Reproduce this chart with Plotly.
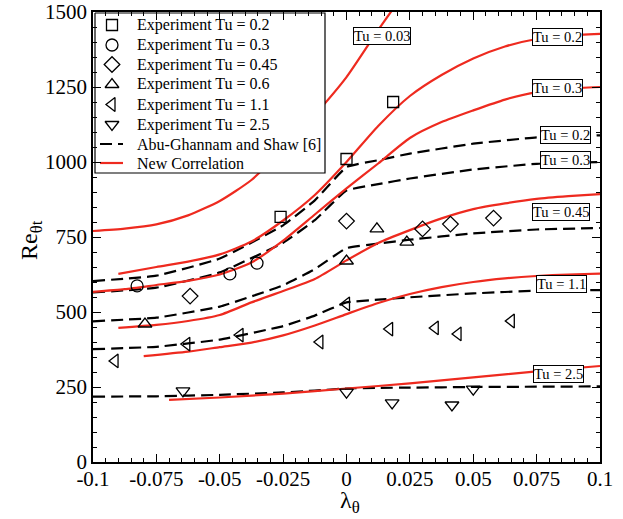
import plotly.graph_objects as go

# --- Abu-Ghannam and Shaw correlation (dashed), read on a common lambda grid ---
ag_lam = [-0.1, -0.075, -0.05, -0.025, -0.0125, 0.0, 0.0125, 0.025, 0.05, 0.075, 0.1]
ag_tu02 = [603, 621, 678, 789, 872, 983, 1006, 1028, 1061, 1082, 1089]
ag_tu03 = [565, 581, 632, 731, 806, 905, 926, 945, 975, 994, 1000]
ag_tu045 = [469, 481, 518, 589, 643, 713, 728, 741, 762, 775, 780]
ag_tu11 = [376, 384, 408, 453, 488, 532, 541, 549, 562, 571, 573]
ag_tu25 = [218, 219, 224, 232, 238, 245, 247, 248, 250, 251, 252]

# --- New correlation (red) ---
nc_tu003_lam = [-0.1, -0.0875, -0.075, -0.0625, -0.05, -0.0375, -0.025, -0.0125, 0.0, 0.0125, 0.02]
nc_tu003 = [770, 778, 792, 822, 870, 940, 1043, 1157, 1283, 1440, 1530]

nc_tu02_lam = [-0.09, -0.075, -0.0625, -0.05, -0.0375, -0.025, -0.0125, 0.0, 0.0125, 0.025,
               0.0375, 0.05, 0.0625, 0.075, 0.0875, 0.1]
nc_tu02 = [627, 650, 668, 692, 735, 805, 890, 1000, 1120, 1220, 1290, 1345, 1385, 1410, 1422, 1427]

nc_tu03_lam = [-0.1, -0.0875, -0.075, -0.0625, -0.05, -0.0375, -0.025, -0.0125, 0.0, 0.0125,
               0.025, 0.0375, 0.05, 0.0625, 0.075, 0.0875, 0.1]
nc_tu03 = [567, 576, 590, 604, 625, 665, 738, 825, 912, 995, 1080, 1133, 1172, 1208, 1233, 1244, 1250]

nc_tu045_lam = [-0.09, -0.075, -0.0625, -0.05, -0.0375, -0.025, -0.0125, 0.0, 0.0125, 0.025,
                0.0375, 0.05, 0.0625, 0.075, 0.0875, 0.1]
nc_tu045 = [447, 457, 470, 490, 532, 570, 610, 672, 730, 773, 812, 843, 862, 877, 886, 893]

nc_tu11_lam = [-0.08, -0.0625, -0.05, -0.0375, -0.025, -0.0125, 0.0, 0.0125, 0.025, 0.0375,
               0.05, 0.0625, 0.075, 0.0875, 0.1]
nc_tu11 = [353, 368, 383, 398, 422, 455, 493, 530, 560, 583, 600, 612, 620, 625, 628]

nc_tu25_lam = [-0.07, -0.05, -0.025, 0.0, 0.025, 0.05, 0.075, 0.1]
nc_tu25 = [207, 215, 228, 245, 262, 282, 302, 320]

# --- Experimental points ---
exp_tu02_lam = [-0.026, 0.0, 0.0184]
exp_tu02 = [817, 1010, 1200]
exp_tu03_lam = [-0.0826, -0.046, -0.0353]
exp_tu03 = [587, 627, 663]
exp_tu045_lam = [-0.0617, 0.0, 0.030, 0.041, 0.058]
exp_tu045 = [553, 803, 777, 793, 813]
exp_tu06_lam = [-0.0795, 0.0, 0.012, 0.0238]
exp_tu06 = [460, 670, 777, 733]
exp_tu11_lam = [-0.0913, -0.063, -0.042, -0.0105, 0.0, 0.017, 0.035, 0.044, 0.065]
exp_tu11 = [337, 393, 423, 400, 527, 443, 447, 427, 470]
exp_tu25_lam = [-0.0645, 0.0, 0.018, 0.0416, 0.05]
exp_tu25 = [237, 233, 197, 190, 243]

# --- Curve labels ---
label_text = ["Tu = 0.03", "Tu = 0.2", "Tu = 0.3", "Tu = 0.2", "Tu = 0.3", "Tu = 0.45", "Tu = 1.1", "Tu = 2.5"]
label_lam = [0.0140, 0.0834, 0.0834, 0.0862, 0.0862, 0.0846, 0.0850, 0.0838]
label_re = [1420, 1418, 1247, 1090, 1007, 833, 593, 293]

# --- Legend entries ---
legend_names = ["Experiment Tu = 0.2", "Experiment Tu = 0.3", "Experiment Tu = 0.45",
                "Experiment Tu = 0.6", "Experiment Tu = 1.1", "Experiment Tu = 2.5",
                "Abu-Ghannam and Shaw [6]", "New Correlation"]

x_tickvals = [-0.1, -0.075, -0.05, -0.025, 0, 0.025, 0.05, 0.075, 0.1]
x_ticktext = ["-0.1", "-0.075", "-0.05", "-0.025", "0", "0.025", "0.05", "0.075", "0.1"]

SERIF = "Liberation Serif"
RED = "#ee2a1f"
DASH = "12px,6px"

W, H = 623, 519
ML, MR, MT, MB = 93, 23, 12, 57
PW, PH = W - ML - MR, H - MT - MB


def fx(px):
    return (px - ML) / PW


def fy(py):
    return (H - MB - py) / PH


fig = go.Figure()

for vals in [ag_tu02, ag_tu03, ag_tu045, ag_tu11, ag_tu25]:
    fig.add_trace(go.Scatter(
        x=ag_lam, y=vals, mode="lines", showlegend=False, hoverinfo="skip",
        line=dict(color="black", width=2.2, dash=DASH, shape="spline", smoothing=0.35),
    ))

for lx, vals in [(nc_tu003_lam, nc_tu003), (nc_tu02_lam, nc_tu02), (nc_tu03_lam, nc_tu03),
                 (nc_tu045_lam, nc_tu045), (nc_tu11_lam, nc_tu11), (nc_tu25_lam, nc_tu25)]:
    fig.add_trace(go.Scatter(
        x=lx, y=vals, mode="lines", showlegend=False, hoverinfo="skip",
        line=dict(color=RED, width=2.2, shape="spline", smoothing=0.6),
    ))

exp_sets = [
    (exp_tu02_lam, exp_tu02, "square-open", 11),
    (exp_tu03_lam, exp_tu03, "circle-open", 12),
    (exp_tu045_lam, exp_tu045, "diamond-open", 12),
    (exp_tu06_lam, exp_tu06, "triangle-up-open", 12),
    (exp_tu11_lam, exp_tu11, "triangle-left-open", 12),
    (exp_tu25_lam, exp_tu25, "triangle-down-open", 12),
]
for (lx, vals, sym, sz), nm in zip(exp_sets, legend_names):
    fig.add_trace(go.Scatter(
        x=lx, y=vals, mode="markers", name=nm, showlegend=False,
        marker=dict(symbol=sym, size=sz, color="black", line=dict(color="black", width=1.3)),
    ))

# ---- legend box drawn on an overlay axis spanning the plot area (0..1) ----
box_l, box_r, box_t, box_b = 95, 325, 13, 173
row_y = [25, 45, 64.5, 84.5, 104.5, 124.5, 144, 163]
sym_x, samp_l, samp_r, text_x = 112, 100, 123, 135

fig.add_trace(go.Scatter(
    x=[fx(box_l), fx(box_r), fx(box_r), fx(box_l), fx(box_l)],
    y=[fy(box_t), fy(box_t), fy(box_b), fy(box_b), fy(box_t)],
    mode="lines", fill="toself", fillcolor="white",
    line=dict(color="black", width=1.2), xaxis="x2", yaxis="y2",
    showlegend=False, hoverinfo="skip",
))
for (lx, vals, sym, sz), ry in zip(exp_sets, row_y[:6]):
    fig.add_trace(go.Scatter(
        x=[fx(sym_x)], y=[fy(ry)], mode="markers", xaxis="x2", yaxis="y2",
        marker=dict(symbol=sym, size=sz, color="black", line=dict(color="black", width=1.3)),
        showlegend=False, hoverinfo="skip",
    ))
fig.add_trace(go.Scatter(
    x=[fx(samp_l), fx(samp_r)], y=[fy(row_y[6])] * 2, mode="lines", xaxis="x2", yaxis="y2",
    line=dict(color="black", width=2.2, dash=DASH), showlegend=False, hoverinfo="skip",
))
fig.add_trace(go.Scatter(
    x=[fx(samp_l), fx(samp_r)], y=[fy(row_y[7])] * 2, mode="lines", xaxis="x2", yaxis="y2",
    line=dict(color=RED, width=2.2), showlegend=False, hoverinfo="skip",
))
for nm, ry in zip(legend_names, row_y):
    fig.add_annotation(
        x=fx(text_x), y=fy(ry), xref="paper", yref="paper", text=nm, showarrow=False,
        xanchor="left", yanchor="middle",
        font=dict(family=SERIF, size=16, color="black"),
    )

# ---- boxed curve labels ----
for t, lx, ly in zip(label_text, label_lam, label_re):
    fig.add_annotation(
        x=lx, y=ly, text=t, showarrow=False,
        font=dict(family=SERIF, size=14.5, color="black"),
        bgcolor="white", bordercolor="black", borderwidth=1, borderpad=0,
    )

# ---- axis titles ----
fig.add_annotation(
    x=fx(350), y=fy(502), xref="paper", yref="paper", text="λ<sub>θ</sub>", showarrow=False,
    xanchor="center", yanchor="middle", font=dict(family=SERIF, size=24, color="black"),
)
fig.add_annotation(
    x=fx(31), y=fy(240), xref="paper", yref="paper", text="Re<sub>θt</sub>", showarrow=False,
    xanchor="center", yanchor="middle", textangle=-90,
    font=dict(family=SERIF, size=24, color="black"),
)

axis_common = dict(
    showline=True, linecolor="black", linewidth=1.5, mirror="allticks",
    ticks="inside", ticklen=8, tickwidth=1.2, tickcolor="black",
    showgrid=False, zeroline=False, automargin=False,
    tickfont=dict(family=SERIF, size=21, color="black"),
)

fig.update_layout(
    width=W, height=H,
    margin=dict(l=ML, r=MR, t=MT, b=MB),
    paper_bgcolor="white", plot_bgcolor="white",
    font=dict(family=SERIF, color="black"),
    xaxis=dict(
        range=[-0.1, 0.1], tickmode="array", tickvals=x_tickvals, ticktext=x_ticktext,
        ticklabelstandoff=-3,
        minor=dict(dtick=0.005, tick0=0, ticks="inside", ticklen=4, tickcolor="black", tickwidth=1),
        **axis_common,
    ),
    yaxis=dict(
        range=[0, 1500], dtick=250, tick0=0,
        minor=dict(dtick=50, tick0=0, ticks="inside", ticklen=4, tickcolor="black", tickwidth=1),
        **axis_common,
    ),
    xaxis2=dict(overlaying="x", range=[0, 1], visible=False, fixedrange=True),
    yaxis2=dict(overlaying="y", range=[0, 1], visible=False, fixedrange=True),
    showlegend=False,
)

fig.write_html("out.html")
